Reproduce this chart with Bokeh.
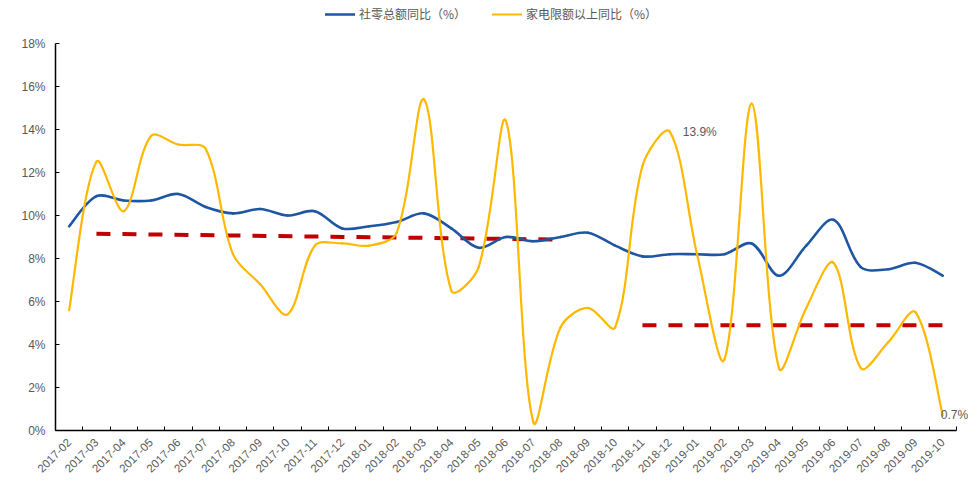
import math
from bokeh.plotting import figure
from bokeh.models import (FixedTicker, ColumnDataSource, Legend, LegendItem,
                          LabelSet, Range1d)
from bokeh.core.properties import value
from bokeh.embed import file_html
from bokeh.resources import INLINE

# ---------------- data ----------------
months = ["2017-02", "2017-03", "2017-04", "2017-05", "2017-06", "2017-07",
          "2017-08", "2017-09", "2017-10", "2017-11", "2017-12",
          "2018-01", "2018-02", "2018-03", "2018-04", "2018-05", "2018-06",
          "2018-07", "2018-08", "2018-09", "2018-10", "2018-11", "2018-12",
          "2019-01", "2019-02", "2019-03", "2019-04", "2019-05", "2019-06",
          "2019-07", "2019-08", "2019-09", "2019-10"]

retail = [9.5, 10.9, 10.7, 10.7, 11.0, 10.4, 10.1, 10.3, 10.0, 10.2, 9.4,
          9.5, 9.7, 10.1, 9.4, 8.5, 9.0, 8.8, 9.0, 9.2, 8.6, 8.1, 8.2,
          8.2, 8.2, 8.7, 7.2, 8.6, 9.8, 7.6, 7.5, 7.8, 7.2]

appliance = [5.6, 12.5, 10.2, 13.7, 13.3, 13.1, 8.2, 6.8, 5.4, 8.6, 8.7,
             8.6, 9.2, 15.4, 6.5, 7.6, 14.4, 0.4, 4.8, 5.7, 4.8, 12.3, 13.9,
             8.2, 3.3, 15.2, 2.9, 5.7, 7.8, 2.9, 4.1, 5.5, 0.7]

trend1_months = ["2017-03", "2018-08"]
trend1_values = [9.15, 8.88]
trend2_months = ["2018-11", "2019-10"]
trend2_values = [4.9, 4.9]

label_months = ["2018-12", "2019-10"]
y_ticks = [0, 2, 4, 6, 8, 10, 12, 14, 16, 18]

series_names = ["社零总额同比（%）", "家电限额以上同比（%）"]

BLUE = "#1F56A3"
YELLOW = "#FFB800"
RED = "#C00000"
TEXT = "#595959"

idx = {m: i for i, m in enumerate(months)}

# layout geometry (pixels)
FRAME_LEFT, FRAME_BOTTOM = 55, 430
PX_PER_CAT = 27.3
PX_PER_PCT = 21.5
Y_END = y_ticks[-1] * FRAME_BOTTOM / (FRAME_BOTTOM - 43)
X_END = -0.5 + (972 - FRAME_LEFT) / PX_PER_CAT


def bezier_source(vals, f=1.0 / 3.0):
    """Excel-style smoothing: chord-length weighted Bezier control points."""
    n = len(vals)
    pts = [(i * PX_PER_CAT, v * PX_PER_PCT) for i, v in enumerate(vals)]

    def dist(a, b):
        return math.hypot(pts[a][0] - pts[b][0], pts[a][1] - pts[b][1])

    before, after = [None] * n, [None] * n
    for i in range(n):
        a = max(i - 1, 0)
        b = min(i + 1, n - 1)
        tx = pts[b][0] - pts[a][0]
        ty = pts[b][1] - pts[a][1]
        d0 = dist(a, i) if i > 0 else 0.0
        d1 = dist(i, b) if i < n - 1 else 0.0
        s = d0 + d1
        if i == 0 or i == n - 1:
            k0 = k1 = f * 0.5
        else:
            k0, k1 = f * d0 / s, f * d1 / s
        before[i] = (pts[i][0] - k0 * tx, pts[i][1] - k0 * ty)
        after[i] = (pts[i][0] + k1 * tx, pts[i][1] + k1 * ty)

    d = dict(x0=[], y0=[], x1=[], y1=[], cx0=[], cy0=[], cx1=[], cy1=[])
    for i in range(n - 1):
        d["x0"].append(i); d["y0"].append(vals[i])
        d["x1"].append(i + 1); d["y1"].append(vals[i + 1])
        d["cx0"].append(after[i][0] / PX_PER_CAT)
        d["cy0"].append(after[i][1] / PX_PER_PCT)
        d["cx1"].append(before[i + 1][0] / PX_PER_CAT)
        d["cy1"].append(before[i + 1][1] / PX_PER_PCT)
    return ColumnDataSource(d)


p = figure(width=972, height=481, title=None,
           x_range=Range1d(-0.5, X_END), y_range=Range1d(0, Y_END),
           output_backend="svg", toolbar_location=None,
           min_border_left=FRAME_LEFT, min_border_right=0, min_border_top=0,
           min_border_bottom=481 - FRAME_BOTTOM, outline_line_color=None,
           background_fill_color="white", border_fill_color="white")

p.xgrid.visible = False
p.ygrid.visible = False

# trend dashed lines
p.line([idx[m] for m in trend1_months], trend1_values, line_color=RED,
       line_width=4, line_dash="14 12")
p.line([idx[m] for m in trend2_months], trend2_values, line_color=RED,
       line_width=4, line_dash="14 12")

r_blue = p.bezier(x0="x0", y0="y0", x1="x1", y1="y1", cx0="cx0", cy0="cy0",
                  cx1="cx1", cy1="cy1", source=bezier_source(retail),
                  line_color=BLUE, line_width=2.6, line_cap="round")
r_yel = p.bezier(x0="x0", y0="y0", x1="x1", y1="y1", cx0="cx0", cy0="cy0",
                 cx1="cx1", cy1="cy1", source=bezier_source(appliance),
                 line_color=YELLOW, line_width=2.2, line_cap="round")

# data labels
lab_src = ColumnDataSource(dict(
    x=[idx[m] for m in label_months],
    y=[appliance[idx[m]] for m in label_months],
    t=["%.1f%%" % appliance[idx[m]] for m in label_months],
    dx=[13, -2]))
p.add_layout(LabelSet(x="x", y="y", text="t", x_offset="dx", source=lab_src,
                      text_font=value("Liberation Sans"),
                      text_font_size="12px", text_color=TEXT,
                      text_baseline="middle", text_align="left"))

# axes
xa = p.xaxis[0]
xa.bounds = (-0.5, len(months) - 0.5)
xa.ticker = FixedTicker(ticks=list(range(len(months))),
                        minor_ticks=[i - 0.5 for i in range(len(months) + 1)])
xa.major_label_overrides = {i: m for i, m in enumerate(months)}
xa.major_tick_line_color = None
xa.minor_tick_line_color = "black"
xa.minor_tick_in = 4
xa.minor_tick_out = 0
xa.axis_line_color = "black"
xa.axis_line_width = 1.5
xa.major_label_orientation = math.pi / 4
xa.major_label_text_font = "Liberation Sans"
xa.major_label_text_font_size = "11.5px"
xa.major_label_text_color = TEXT
xa.major_label_standoff = 4

ya = p.yaxis[0]
ya.bounds = (y_ticks[0], y_ticks[-1])
ya.ticker = FixedTicker(ticks=y_ticks)
ya.major_label_overrides = {t: "%d%%" % t for t in y_ticks}
ya.major_tick_in = 4
ya.major_tick_out = 0
ya.major_tick_line_color = "black"
ya.minor_tick_line_color = None
ya.axis_line_color = "black"
ya.axis_line_width = 1.5
ya.major_label_text_font = "Liberation Sans"
ya.major_label_text_font_size = "12px"
ya.major_label_text_color = TEXT
ya.major_label_standoff = 10

legend = Legend(items=[LegendItem(label=series_names[0], renderers=[r_blue]),
                       LegendItem(label=series_names[1], renderers=[r_yel])],
                orientation="horizontal", location=(270, 408),
                label_text_font="Noto Sans CJK SC", label_text_font_size="12px",
                label_text_color=TEXT, glyph_width=30, glyph_height=12,
                label_height=12, label_standoff=4, spacing=26,
                border_line_color=None, background_fill_alpha=0,
                margin=0, padding=2)
p.add_layout(legend, "center")

open("out.html", "w").write(file_html(p, INLINE))
